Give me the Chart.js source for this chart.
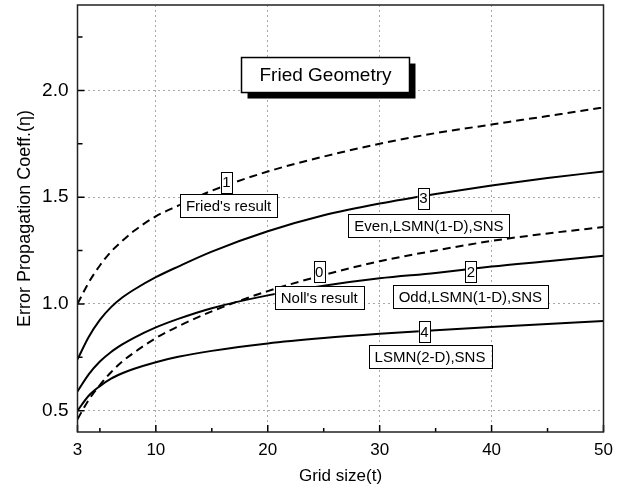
<!DOCTYPE html>
<html>
<head>
<meta charset="utf-8">
<script src="https://cdn.jsdelivr.net/npm/chart.js@4.4.0/dist/chart.umd.min.js"></script>
<style>
  html, body { margin: 0; padding: 0; background: #fff; }
  #wrap { width: 633px; height: 492px; }
</style>
</head>
<body>
<div id="wrap"><canvas id="chart" width="633" height="492"></canvas></div>
<script>
const gridSizes = [3, 4, 5, 6, 7, 8, 10, 12, 15, 20, 25, 30, 35, 40, 45, 50];

// curve 0 - Noll's result (dashed)
const nollResult = [0.46, 0.55, 0.62, 0.68, 0.73, 0.77, 0.84, 0.895, 0.965, 1.06, 1.135, 1.20, 1.25, 1.295, 1.33, 1.36];
// curve 1 - Fried's result (dashed)
const friedResult = [1.00, 1.10, 1.18, 1.245, 1.295, 1.34, 1.41, 1.46, 1.53, 1.62, 1.69, 1.75, 1.80, 1.84, 1.88, 1.92];
// curve 2 - Odd,LSMN(1-D),SNS
const oddLsmn1d = [0.59, 0.67, 0.73, 0.775, 0.81, 0.84, 0.89, 0.93, 0.98, 1.04, 1.085, 1.12, 1.145, 1.175, 1.20, 1.225];
// curve 3 - Even,LSMN(1-D),SNS
const evenLsmn1d = [0.74, 0.845, 0.925, 0.985, 1.03, 1.065, 1.125, 1.175, 1.245, 1.34, 1.415, 1.47, 1.515, 1.555, 1.59, 1.62];
// curve 4 - LSMN(2-D),SNS
const lsmn2d = [0.50, 0.57, 0.615, 0.65, 0.675, 0.695, 0.727, 0.752, 0.78, 0.815, 0.84, 0.86, 0.877, 0.892, 0.906, 0.92];

// axis ticks
const xMajorTicks = [3, 10, 20, 30, 40, 50];
const xMinorTicks = [5, 15, 25, 35, 45];
const yMajorTicks = [0.5, 1.0, 1.5, 2.0];
const yMinorTicks = [0.75, 1.25, 1.75, 2.25];

// little number tags sitting on the curves, and the names under them
const curveTags = [
    { text: '1', t: 16.3, v: 1.57 },
    { text: '3', t: 33.9, v: 1.495 },
    { text: '0', t: 24.6, v: 1.15 },
    { text: '2', t: 38.15, v: 1.15 },
    { text: '4', t: 34.0, v: 0.87 }
];
const curveNames = [
    { text: "Fried's result", t: 16.5, v: 1.46 },
    { text: 'Even,LSMN(1-D),SNS', t: 34.4, v: 1.367 },
    { text: "Noll's result", t: 24.6, v: 1.03 },
    { text: 'Odd,LSMN(1-D),SNS', t: 38.1, v: 1.034 },
    { text: 'LSMN(2-D),SNS', t: 34.5, v: 0.752 }
];
const chartTitle = { text: 'Fried Geometry', t: 25.16, v: 2.072 };

const FONT = '"Liberation Sans", Arial, sans-serif';

function toPoints(values) {
    return gridSizes.map((t, i) => ({ x: t, y: values[i] }));
}

function curve(values, dashed) {
    return {
        data: toPoints(values),
        borderColor: '#000',
        borderWidth: 2,
        borderDash: dashed ? [8, 5] : [],
        pointRadius: 0,
        fill: false,
        cubicInterpolationMode: 'monotone'
    };
}

function isIn(list, v) {
    return list.some(m => Math.abs(m - v) < 1e-6);
}

// frame, inward ticks and the boxed labels
const decorations = {
    id: 'decorations',
    afterDatasetsDraw(chart) {
        const ctx = chart.ctx;
        const xs = chart.scales.x, ys = chart.scales.y;

        function box(text, t, v, size, padX, h) {
            ctx.font = size + 'px ' + FONT;
            const w = ctx.measureText(text).width + padX * 2;
            const cx = xs.getPixelForValue(t), cy = ys.getPixelForValue(v);
            ctx.fillStyle = '#fff';
            ctx.fillRect(cx - w / 2, cy - h / 2, w, h);
            ctx.strokeStyle = '#000';
            ctx.lineWidth = 1;
            ctx.strokeRect(Math.round(cx - w / 2) + 0.5, Math.round(cy - h / 2) + 0.5, Math.round(w), Math.round(h));
            ctx.fillStyle = '#000';
            ctx.textAlign = 'center';
            ctx.textBaseline = 'middle';
            ctx.fillText(text, cx, cy + 1);
        }

        ctx.save();
        curveTags.forEach(l => box(l.text, l.t, l.v, 15, 1.5, 21));
        curveNames.forEach(l => box(l.text, l.t, l.v, 15, 6, 23));

        // title box with its drop shadow
        ctx.font = '19px ' + FONT;
        const tw = ctx.measureText(chartTitle.text).width + 36, th = 35;
        const tx = xs.getPixelForValue(chartTitle.t) - tw / 2;
        const ty = ys.getPixelForValue(chartTitle.v) - th / 2;
        ctx.fillStyle = '#000';
        ctx.fillRect(tx + 6, ty + 6, tw, th);
        ctx.fillStyle = '#fff';
        ctx.fillRect(tx, ty, tw, th);
        ctx.lineWidth = 1.5;
        ctx.strokeRect(tx, ty, tw, th);
        ctx.fillStyle = '#000';
        ctx.textAlign = 'center';
        ctx.textBaseline = 'middle';
        ctx.fillText(chartTitle.text, tx + tw / 2, ty + th / 2 + 1);

        // ticks pointing into the plot
        const a = chart.chartArea;
        ctx.strokeStyle = '#000';
        ctx.lineWidth = 1.5;
        ctx.beginPath();
        xMajorTicks.concat(xMinorTicks).forEach(t => {
            const px = xs.getPixelForValue(t);
            const len = isIn(xMajorTicks, t) ? 7 : 4;
            ctx.moveTo(px, a.bottom);
            ctx.lineTo(px, a.bottom - len);
        });
        yMajorTicks.concat(yMinorTicks).forEach(v => {
            const py = ys.getPixelForValue(v);
            const len = isIn(yMajorTicks, v) ? 7 : 5;
            ctx.moveTo(a.left, py);
            ctx.lineTo(a.left + len, py);
        });
        ctx.stroke();

        // frame round the plot
        ctx.strokeStyle = '#222';
        ctx.lineWidth = 1.5;
        ctx.strokeRect(a.left, a.top, a.right - a.left, a.bottom - a.top);
        ctx.restore();
    }
};

const gridColor = majors => c => (c.tick && isIn(majors, c.tick.value)) ? '#a8a8a8' : 'rgba(0,0,0,0)';

new Chart(document.getElementById('chart').getContext('2d'), {
    type: 'line',
    data: {
        datasets: [
            curve(friedResult, true),
            curve(evenLsmn1d, false),
            curve(nollResult, true),
            curve(oddLsmn1d, false),
            curve(lsmn2d, false)
        ]
    },
    options: {
        responsive: false,
        animation: false,
        layout: { padding: { top: 5, right: 29.5, left: 0, bottom: 0 } },
        plugins: { legend: { display: false }, tooltip: { enabled: false } },
        scales: {
            x: {
                type: 'linear',
                min: 3,
                max: 50,
                afterBuildTicks: s => { s.ticks = xMajorTicks.concat(xMinorTicks).sort((p, q) => p - q).map(v => ({ value: v })); },
                afterFit: s => { s.height = 60; s.paddingLeft = 0; s.paddingRight = 0; },
                ticks: {
                    autoSkip: false,
                    maxRotation: 0,
                    padding: 8,
                    color: '#000',
                    font: { family: FONT, size: 17 },
                    callback: v => isIn(xMajorTicks, v) ? String(v) : ''
                },
                grid: { drawTicks: false, lineWidth: 1, color: gridColor(xMajorTicks) },
                border: { display: false, dash: [2, 3] },
                title: { display: true, text: 'Grid size(t)', color: '#000', font: { family: FONT, size: 17 }, padding: { top: 0, bottom: 5 } }
            },
            y: {
                type: 'linear',
                min: 0.4,
                max: 2.4,
                afterBuildTicks: s => { s.ticks = yMajorTicks.concat(yMinorTicks).sort((p, q) => p - q).map(v => ({ value: v })); },
                afterFit: s => { s.width = 77.5; s.paddingTop = 0; s.paddingBottom = 0; },
                ticks: {
                    autoSkip: false,
                    padding: 9,
                    color: '#000',
                    font: { family: FONT, size: 19 },
                    callback: v => isIn(yMajorTicks, v) ? v.toFixed(1) : ''
                },
                grid: { drawTicks: false, lineWidth: 1, color: gridColor(yMajorTicks) },
                border: { display: false, dash: [2, 3] },
                title: { display: true, text: 'Error Propagation Coeff.(η)', color: '#000', font: { family: FONT, size: 18 }, padding: { top: 14, bottom: 0 } }
            }
        }
    },
    plugins: [decorations]
});
</script>
</body>
</html>
